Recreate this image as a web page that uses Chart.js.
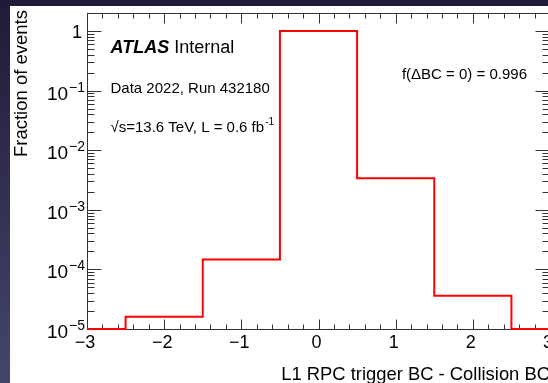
<!DOCTYPE html>
<html lang="en">
<head>
    <meta charset="UTF-8">
    <title>L1 RPC trigger BC</title>
    <script src="https://cdn.jsdelivr.net/npm/chart.js"></script>
    <style>
        html, body{
            margin: 0;
            width: 548px;
            height: 383px;
            overflow: hidden;
            background: linear-gradient(#1f1b37, #45456c);
        }
        #paper{
            position: absolute;
            left: 10px;
            top: 6px;
            width: 560px;
            height: 377px;
            background: #ffffff;
        }
    </style>
</head>
<body>
    <div id="paper">
        <canvas id="bc-chart" width="560" height="377"></canvas>
    </div>

    <script>
        // bin centres (delta BC) and fraction of events
        const binCenters = [-3, -2, -1, 0, 1, 2, 3]
        const fractions = [0, 1.6e-5, 1.47e-4, 0.996, 3.38e-3, 3.6e-5, 0]

        const xTickValues = [-3, -2, -1, 0, 1, 2, 3]
        const xTickLabels = ['\u22123', '\u22122', '\u22121', '0', '1', '2', '3']
        const yTickValues = [1e-5, 1e-4, 1e-3, 1e-2, 1e-1, 1]
        const yTickExponents = ['\u22125', '\u22124', '\u22123', '\u22122', '\u22121', '']

        const Y_MIN = 1e-5
        const Y_MAX = 2

        const FONT = '"Liberation Sans", Arial, sans-serif'

        // ROOT style frame: ticks inside, on all four sides
        const rootFrame = {
            id: 'rootFrame',
            beforeDatasetsDraw(chart) {
                const ctx = chart.ctx
                const a = chart.chartArea
                const xs = chart.scales.x
                const ys = chart.scales.y
                const L = Math.round(a.left) + 0.5
                const R = Math.round(a.right) - 0.5
                const T = Math.round(a.top) + 0.5
                const B = Math.round(a.bottom) + 0.5

                ctx.save()
                ctx.strokeStyle = '#333'
                ctx.lineWidth = 1
                ctx.strokeRect(L, T, R - L, B - T)

                ctx.beginPath()
                // x ticks every 0.2, longer at integers
                for (let i = 0; i <= 30; i++) {
                    const v = -3 + i * 0.2
                    const px = Math.round(xs.getPixelForValue(v)) + 0.5
                    const len = (i % 5 === 0) ? 10 : 5
                    ctx.moveTo(px, B); ctx.lineTo(px, B - len)
                    ctx.moveTo(px, T); ctx.lineTo(px, T + len)
                }
                // y ticks: decades long, 2..9 short
                yTickValues.forEach(d => {
                    for (let m = 1; m <= 9; m++) {
                        const v = d * m
                        if (v > ys.max) break
                        const py = Math.round(ys.getPixelForValue(v)) + 0.5
                        const len = (m === 1) ? 14 : 7
                        ctx.moveTo(L, py); ctx.lineTo(L + len, py)
                        ctx.moveTo(R, py); ctx.lineTo(R - len, py)
                    }
                })
                ctx.stroke()
                ctx.restore()
            },
            afterDraw(chart) {
                const ctx = chart.ctx
                const a = chart.chartArea
                const xs = chart.scales.x
                const ys = chart.scales.y

                ctx.save()
                ctx.fillStyle = '#000'
                ctx.textBaseline = 'alphabetic'

                // x tick labels
                ctx.font = '18px ' + FONT
                ctx.textAlign = 'center'
                xTickValues.forEach((v, i) => {
                    ctx.fillText(xTickLabels[i], xs.getPixelForValue(v) - 2, a.bottom + 19)
                })

                // y tick labels 10^n
                yTickValues.forEach((v, i) => {
                    const py = ys.getPixelForValue(v)
                    const right = a.left - 2
                    if (yTickExponents[i] === '') {
                        ctx.font = '18px ' + FONT
                        ctx.textAlign = 'right'
                        ctx.fillText('1', right - 3, py + 7)
                        return
                    }
                    ctx.font = '14px ' + FONT
                    ctx.textAlign = 'right'
                    const ew = ctx.measureText(yTickExponents[i]).width
                    ctx.fillText(yTickExponents[i], right, py + 1)
                    ctx.font = '19px ' + FONT
                    ctx.fillText('10', right - ew - 1, py + 9)
                })

                // axis titles
                ctx.font = '18.4px ' + FONT
                ctx.textAlign = 'right'
                ctx.fillText('L1 RPC trigger BC - Collision BC', a.right, a.bottom + 51)

                ctx.save()
                ctx.translate(17, 4)
                ctx.rotate(-Math.PI / 2)
                ctx.font = '18.5px ' + FONT
                ctx.textAlign = 'right'
                ctx.fillText('Fraction of events', 0, 0)
                ctx.restore()

                // labels
                ctx.textAlign = 'left'
                ctx.font = 'italic bold 18px ' + FONT
                ctx.fillText('ATLAS', 100.5, 47)
                const aw = ctx.measureText('ATLAS').width
                ctx.font = '18px ' + FONT
                ctx.fillText('Internal', 100.5 + aw + 5, 47)

                ctx.font = '15px ' + FONT
                ctx.fillText('Data 2022, Run 432180', 100.5, 87)
                const lumi = '\u221As=13.6 TeV, L = 0.6 fb'
                ctx.fillText(lumi, 100.5, 126)
                const lw = ctx.measureText(lumi).width
                ctx.font = '10px ' + FONT
                ctx.fillText('-1', 100.5 + lw + 1, 119)

                ctx.font = '15px ' + FONT
                ctx.textAlign = 'right'
                ctx.fillText('f(\u0394BC = 0) = 0.996', 517, 73)

                ctx.restore()
            }
        }

        const ctxBC = document.getElementById('bc-chart')

        new Chart(ctxBC, {
            type: 'line',
            data: {
                datasets: [{
                    // empty bins are drawn on the axis floor, as ROOT does on a log scale
                    data: binCenters.map((x, i) => ({ x: x, y: Math.max(fractions[i], Y_MIN) })),
                    stepped: 'middle',
                    borderColor: '#ff0000',
                    borderWidth: 2,
                    pointRadius: 0,
                    fill: false,
                    clip: false
                }]
            },
            options: {
                responsive: false,
                animation: false,
                layout: {
                    padding: { left: 77, top: 7, right: 20, bottom: 54 }
                },
                plugins: {
                    legend: { display: false },
                    tooltip: { enabled: false }
                },
                scales: {
                    x: { type: 'linear', min: -3, max: 3, display: false },
                    y: { type: 'logarithmic', min: Y_MIN, max: Y_MAX, display: false }
                }
            },
            plugins: [rootFrame]
        })
    </script>
</body>
</html>
